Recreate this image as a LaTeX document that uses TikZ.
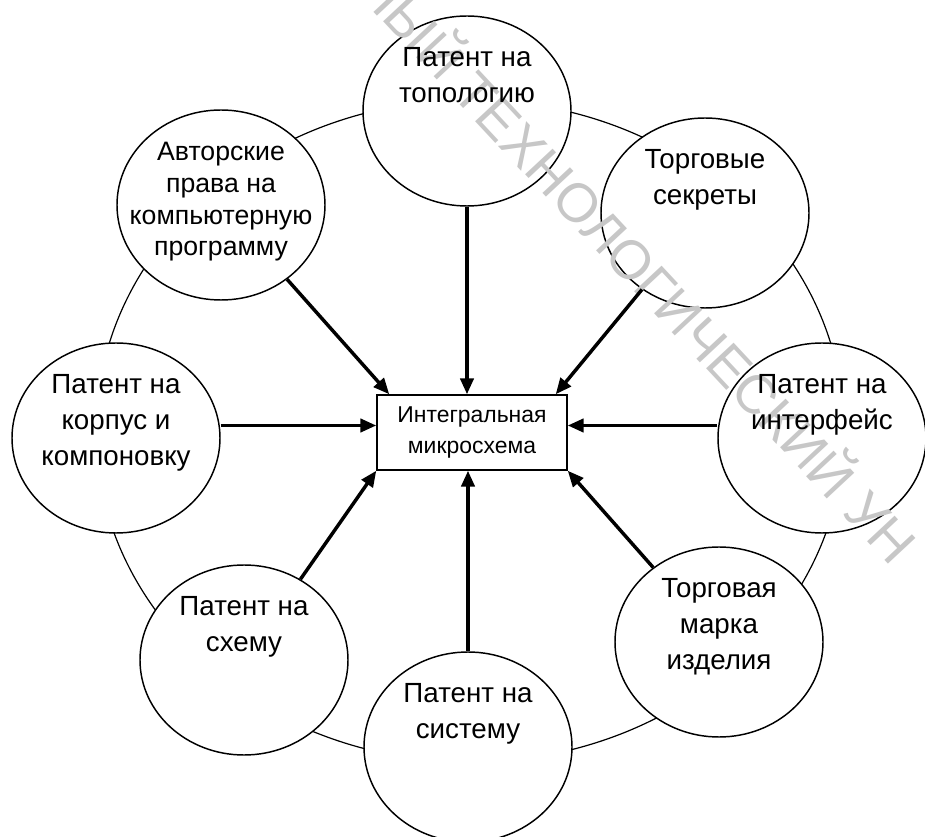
\documentclass[tikz,border=0pt]{standalone}
\usepackage{fontspec}
\setmainfont{Liberation Sans}
\usetikzlibrary{shapes.geometric,arrows.meta}

\begin{document}
\begin{tikzpicture}[x=0.75pt, y=-0.75pt,
  patent/.style={draw, ellipse, fill=white, line width=1.1pt, minimum width=156pt, minimum height=142.5pt, inner sep=0pt},
  lbl/.style={anchor=north, align=center, inner sep=0pt, font=\fontsize{20.8pt}{27pt}\selectfont},
  arr/.style={line width=2.6pt, -{Triangle[length=12pt,width=10pt]}},
  wm/.style={rotate=-47, inner sep=0pt, text=black!22, font=\fontsize{41pt}{41pt}\selectfont}]

\useasboundingbox (0,0) rectangle (925,837);

\draw[line width=0.9pt] (470,431) ellipse [x radius=280.5pt, y radius=248.25pt];

\node[patent] (topo) at (467,111) {};
\node[patent] (secrets) at (705,213) {};
\node[patent] (iface) at (822,438) {};
\node[patent] (mark) at (719,642) {};
\node[patent] (system) at (468,747) {};
\node[patent] (scheme) at (244,660) {};
\node[patent] (korpus) at (116,438) {};
\node[patent] (authors) at (221,205) {};

\node[wm, anchor=base west] (topo-wm) at (450,94) {\llap{ННЫЙ }ТЕХНОЛОГИЧЕСКИЙ УН};

\node[lbl] (topo-t) at ([yshift=-24pt]topo.north) {Патент на\\топологию};
\node[lbl] (secrets-t) at ([yshift=-24pt]secrets.north) {Торговые\\секреты};
\node[lbl] (iface-t) at ([yshift=-24pt]iface.north) {Патент на\\интерфейс};
\node[lbl] (mark-t) at ([yshift=-24pt]mark.north) {Торговая\\марка\\изделия};
\node[lbl] (system-t) at ([yshift=-24pt]system.north) {Патент на\\систему};
\node[lbl] (scheme-t) at ([yshift=-24pt]scheme.north) {Патент на\\схему};
\node[lbl] (korpus-t) at ([yshift=-24pt]korpus.north) {Патент на\\корпус и\\компоновку};
\node[lbl, font=\fontsize{20pt}{23.8pt}\selectfont] (authors-t) at ([yshift=-24.5pt]authors.north) {Авторские\\права на\\компьютерную\\программу};

\node[draw, line width=1.1pt, minimum width=142.5pt, minimum height=56.25pt, inner sep=0pt, align=center,
  font=\fontsize{17.2pt}{23.25pt}\selectfont] (chip) at (472,432.5) {Интегральная\\микросхема};

\coordinate (chipL) at ([yshift=5.25pt]chip.west);
\coordinate (chipR) at ([yshift=5.25pt]chip.east);

\draw[arr] (topo) -- (topo |- chip.north);
\draw[arr] (system) -- (system |- chip.south);
\draw[arr] (korpus.east |- chipL) -- (chipL);
\draw[arr] (iface.west |- chipR) -- (chipR);
\draw[arr] (authors) -- ([xshift=9.75pt]chip.north west);
\draw[arr] (secrets) -- ([xshift=-9pt]chip.north east);
\draw[arr] (scheme) -- (chip.south west);
\draw[arr] (mark) -- (chip.south east);
\end{tikzpicture}
\end{document}
